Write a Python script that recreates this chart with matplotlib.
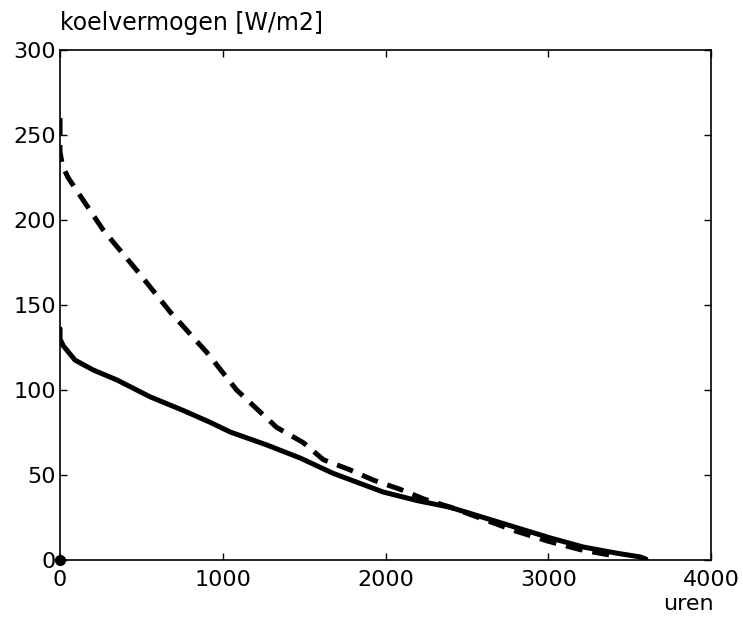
import matplotlib
matplotlib.use("Agg")
import matplotlib.pyplot as plt

# koelvermogen curves (uren, W/m2)
solid_x = [0, 0, 20, 92, 203, 350, 553, 756, 922, 1045, 1272, 1475, 1677, 1985,
           2191, 2396, 2601, 2806, 3011, 3216, 3420, 3564, 3600]
solid_y = [136, 130, 126, 117.6, 111.8, 105.9, 96, 88, 81, 75.3, 67.6, 60, 51, 40,
           35, 31, 25, 19, 13, 7.6, 4, 1.8, 0.5]

dash_x = [0, 0, 15, 49, 266, 470, 676, 903, 1085, 1331, 1495, 1618, 1782, 1925,
          2089, 2232, 2400, 2600, 2800, 3000, 3200, 3400]
dash_y = [260, 240, 232, 225, 194, 170.6, 146, 122, 100, 78, 69, 59, 53, 47,
          41.6, 36, 31, 24, 17, 11, 6, 2.5]

xticks = [0, 1000, 2000, 3000, 4000]
yticks = [0, 50, 100, 150, 200, 250, 300]

plt.rcParams['font.family'] = ['DejaVu Sans']

fig = plt.figure(figsize=(7.43, 6.18), dpi=100)
ax = fig.add_axes([0.0808, 0.0939, 0.957 - 0.0808, 0.919 - 0.0939])

ax.plot(solid_x, solid_y, color='black', lw=3.6, solid_capstyle='round')
ax.plot(dash_x, dash_y, color='black', lw=3.6, dashes=(3.4, 2.0))
ax.plot([0], [0], 'o', color='black', markersize=7, clip_on=False, zorder=5)

ax.set_xlim(0, 4000)
ax.set_ylim(0, 300)
ax.set_xticks(xticks)
ax.set_yticks(yticks)
ax.tick_params(direction='in', length=5, width=1, top=True, right=True,
               labelsize=16)
ax.tick_params(axis='y', pad=3)
ax.tick_params(axis='x', pad=7)
for s in ax.spines.values():
    s.set_linewidth(1.2)

fig.text(60 / 743, 1 - 30 / 618, 'koelvermogen [W/m2]', fontsize=17,
         ha='left', va='baseline')
fig.text(688 / 743, 1 - 610 / 618, 'uren', fontsize=16, ha='center', va='baseline')

fig.savefig('out.png', dpi=100)
